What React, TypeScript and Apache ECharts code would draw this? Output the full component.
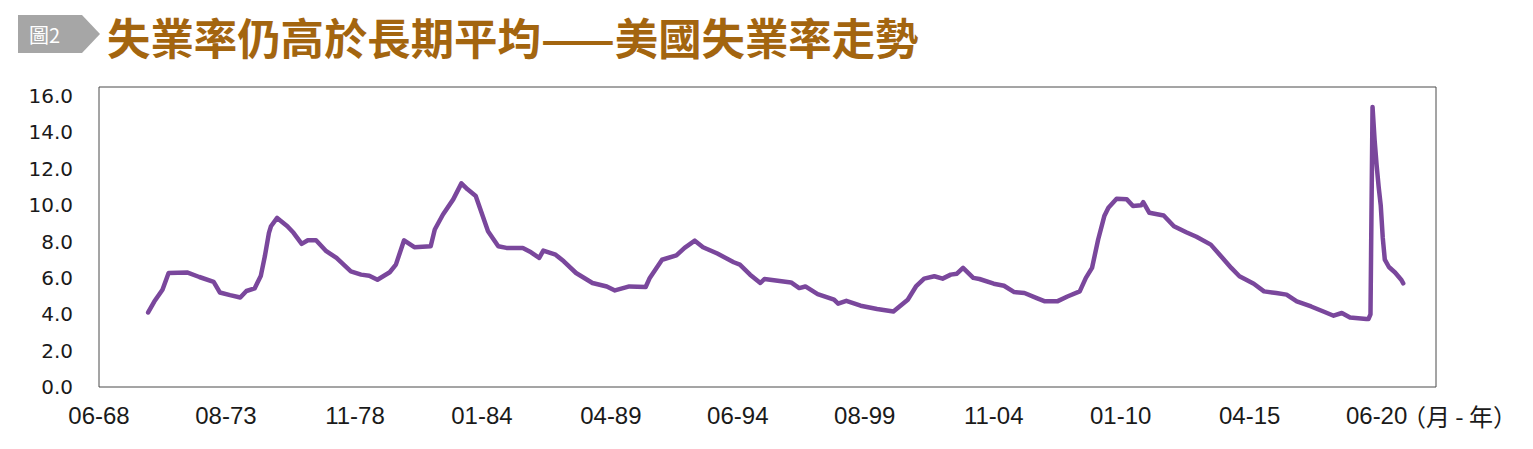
import React, { useEffect, useRef } from 'react';
import * as echarts from 'echarts';

const TITLE = '失業率仍高於長期平均——美國失業率走勢';
const BADGE = '圖2';
const UNIT = '（月 - 年）';

const tickLabels = ['06-68', '08-73', '11-78', '01-84', '04-89', '06-94', '08-99', '11-04', '01-10', '04-15', '06-20'];

const pointMonths = [
  '06-70', '09-70', '01-71', '04-71', '01-72', '07-72', '02-73', '05-73', '10-73', '03-74',
  '06-74', '10-74', '01-75', '03-75', '05-75', '06-75', '09-75', '02-76', '05-76', '09-76',
  '12-76', '04-77', '09-77', '02-78', '09-78', '02-79', '06-79', '10-79', '04-80', '07-80',
  '11-80', '04-81', '12-81', '02-82', '06-82', '11-82', '03-83', '06-83', '10-83', '12-83',
  '04-84', '09-84', '01-85', '09-85', '01-86', '05-86', '07-86', '01-87', '05-87', '11-87',
  '07-88', '02-89', '06-89', '01-90', '09-90', '11-90', '05-91', '12-91', '04-92', '09-92',
  '01-93', '08-93', '04-94', '07-94', '12-94', '05-95', '07-95', '08-96', '12-96', '03-97',
  '09-97', '05-98', '07-98', '11-98', '06-99', '02-00', '10-00', '05-01', '09-01', '01-02',
  '06-02', '10-02', '02-03', '05-03', '08-03', '01-04', '04-04', '11-04', '04-05', '09-05',
  '02-06', '08-06', '12-06', '06-07', '11-07', '05-08', '08-08', '11-08', '02-09', '05-09',
  '07-09', '11-09', '04-10', '07-10', '11-10', '12-10', '03-11', '10-11', '03-12', '09-12',
  '02-13', '09-13', '02-14', '07-14', '11-14', '06-15', '11-15', '05-16', '10-16', '03-17',
  '10-17', '04-18', '09-18', '01-19', '05-19', '01-20', '02-20', '03-20', '04-20', '05-20',
  '06-20', '07-20', '08-20', '09-20', '10-20', '12-20', '03-21', '06-21', '07-21'
];

const unemployment = [
  4.1, 4.7, 5.35, 6.27, 6.3, 6.05, 5.78, 5.2, 5.05, 4.92,
  5.28, 5.42, 6.1, 7.19, 8.48, 8.84, 9.3, 8.84, 8.48, 7.87,
  8.07, 8.07, 7.47, 7.1, 6.36, 6.18, 6.12, 5.9, 6.31, 6.73,
  8.07, 7.69, 7.74, 8.66, 9.49, 10.32, 11.2, 10.87, 10.5, 9.86,
  8.57, 7.74, 7.65, 7.65, 7.41, 7.1, 7.5, 7.28, 6.91, 6.27,
  5.72, 5.53, 5.31, 5.53, 5.5, 6.0, 7.0, 7.24, 7.65, 8.05,
  7.69, 7.34, 6.86, 6.73, 6.18, 5.72, 5.94, 5.75, 5.44, 5.53,
  5.11, 4.8, 4.58, 4.74, 4.47, 4.29, 4.15, 4.8, 5.53, 5.96,
  6.09, 5.96, 6.18, 6.23, 6.55, 6.0, 5.94, 5.68, 5.57, 5.22,
  5.17, 4.89, 4.71, 4.71, 4.98, 5.26, 6.0, 6.55, 8.11, 9.4,
  9.86, 10.35, 10.32, 9.95, 9.99, 10.17, 9.58, 9.43, 8.84, 8.51,
  8.26, 7.83, 7.19, 6.55, 6.09, 5.68, 5.26, 5.17, 5.08, 4.71,
  4.43, 4.15, 3.92, 4.07, 3.82, 3.74, 3.74, 4.0, 15.4, 13.6,
  12.2, 11.0, 10.0, 8.2, 7.0, 6.6, 6.3, 5.9, 5.7
];

// Monthly category axis from 06-68 through 11-22
const AXIS_START_YEAR = 1968;
const AXIS_START_MONTH = 6;
const AXIS_MONTH_COUNT = 654;

function buildMonths(startYear: number, startMonth: number, count: number): string[] {
  const out: string[] = [];
  for (let i = 0; i < count; i++) {
    const total = startMonth - 1 + i;
    const m = (total % 12) + 1;
    const y = (startYear + Math.floor(total / 12)) % 100;
    out.push(String(m).padStart(2, '0') + '-' + String(y).padStart(2, '0'));
  }
  return out;
}

export default function App() {
  const ref = useRef<HTMLDivElement>(null);

  useEffect(() => {
    if (!ref.current) return;
    const chart = echarts.init(ref.current, null, { renderer: 'svg' });
    const months = buildMonths(AXIS_START_YEAR, AXIS_START_MONTH, AXIS_MONTH_COUNT);
    chart.setOption({
      animation: false,
      backgroundColor: '#ffffff',
      grid: {
        left: 99,
        top: 87,
        right: 97,
        bottom: 62,
        show: true,
        borderColor: '#4a4a4a',
        borderWidth: 1,
        backgroundColor: 'transparent',
      },
      xAxis: {
        type: 'category',
        data: months,
        boundaryGap: false,
        axisLine: { show: false },
        axisTick: { show: false },
        splitLine: { show: false },
        axisLabel: {
          interval: (_i: number, v: string) => tickLabels.includes(v),
          fontFamily: 'Liberation Sans, Arial, sans-serif',
          fontSize: 24,
          color: '#1a1a1a',
          margin: 16,
        },
      },
      yAxis: {
        type: 'value',
        min: 0,
        max: 16.5,
        interval: 2,
        axisLine: { show: false },
        axisTick: { show: false },
        splitLine: { show: false },
        axisLabel: {
          showMaxLabel: false,
          formatter: (v: number) => v.toFixed(1),
          fontFamily: 'DejaVu Sans, sans-serif',
          fontSize: 20,
          color: '#1a1a1a',
          margin: 26,
        },
      },
      series: [
        {
          type: 'line',
          data: pointMonths.map((m, i) => [m, unemployment[i]]),
          showSymbol: false,
          symbol: 'none',
          lineStyle: { color: '#7a479c', width: 4.5, join: 'round', cap: 'round' },
          itemStyle: { color: '#7a479c' },
        },
      ],
      graphic: [
        {
          type: 'polygon',
          shape: { points: [[18, 15], [82, 15], [100, 34], [82, 53], [18, 53]] },
          style: { fill: '#a6a6a6' },
        },
        {
          type: 'text',
          x: 29,
          y: 34,
          style: {
            text: BADGE,
            fill: '#ffffff',
            fontSize: 20,
            fontFamily: 'Noto Sans CJK TC, sans-serif',
            align: 'left',
            verticalAlign: 'middle',
          },
        },
        {
          type: 'text',
          x: 107,
          y: 36,
          style: {
            text: TITLE,
            fill: '#a3650f',
            fontSize: 43.4,
            fontWeight: 'bold',
            fontFamily: 'Noto Sans CJK TC, sans-serif',
            align: 'left',
            verticalAlign: 'middle',
          },
        },
        {
          type: 'text',
          x: 1517,
          y: 415,
          style: {
            text: UNIT,
            fill: '#1a1a1a',
            fontSize: 24,
            fontFamily: 'Noto Sans CJK TC, sans-serif',
            align: 'right',
            verticalAlign: 'middle',
          },
        },
      ],
    });
    return () => chart.dispose();
  }, []);

  return <div ref={ref} style={{ position: 'absolute', left: 0, top: 0, width: 1533, height: 449 }} />;
}
